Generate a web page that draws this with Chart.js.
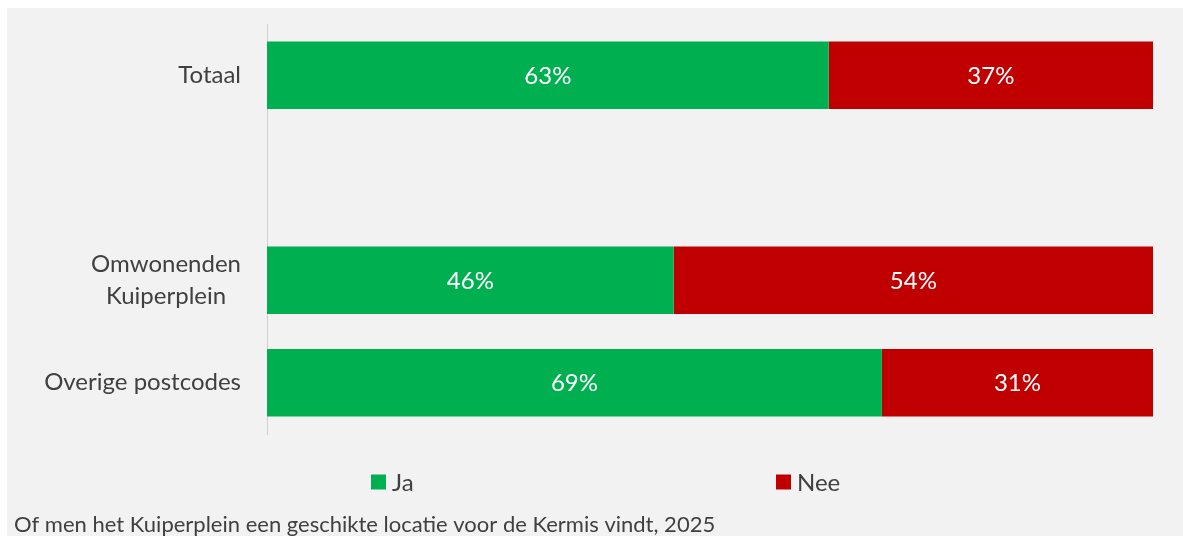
<!DOCTYPE html>
<html>
<head>
<meta charset="utf-8">
<script src="https://cdn.jsdelivr.net/npm/chart.js@4"></script>
<style>
  body { margin: 0; background: #ffffff; }
  #wrap { width: 1183px; height: 536px; }
</style>
</head>
<body>
<div id="wrap"><canvas id="barChart"></canvas></div>
<script>
// categories (the empty one is the gap between Totaal and the rest)
var categories = ['Totaal', '', ['Omwonenden', 'Kuiperplein'], 'Overige postcodes'];
var jaValues = [63.4, null, 45.9, 69.4];
var neeValues = [36.6, null, 54.1, 30.6];
var seriesNames = ['Ja', 'Nee'];
var chartTitle = 'Of men het Kuiperplein een geschikte locatie voor de Kermis vindt, 2025';

var green = '#00b050';
var red = '#c00000';
var textColor = '#404040';
var fontFamily = 'Lato, "Open Sans", sans-serif';

var bgPlugin = {
    id: 'bg',
    beforeDraw: function (chart) {
        var ctx = chart.ctx;
        ctx.save();
        ctx.fillStyle = '#ffffff';
        ctx.fillRect(0, 0, chart.width, chart.height);
        ctx.fillStyle = '#f2f2f2';
        ctx.fillRect(7, 8, chart.width - 7, chart.height - 8);
        ctx.restore();
    }
};

// white percentage labels in the middle of each segment
var valueLabels = {
    id: 'valueLabels',
    afterDatasetsDraw: function (chart) {
        var ctx = chart.ctx;
        ctx.save();
        ctx.fillStyle = '#ffffff';
        ctx.font = '24px ' + fontFamily;
        ctx.textAlign = 'center';
        ctx.textBaseline = 'middle';
        chart.data.datasets.forEach(function (ds, i) {
            var meta = chart.getDatasetMeta(i);
            meta.data.forEach(function (bar, j) {
                var v = ds.data[j];
                if (v == null) return;
                var p = bar.getCenterPoint();
                ctx.fillText(Math.round(v) + '%', p.x, p.y + 1);
            });
        });
        ctx.restore();
    }
};

// category labels: right aligned block, lines centred on each other
var catLabels = {
    id: 'catLabels',
    afterDraw: function (chart) {
        var ctx = chart.ctx;
        var yScale = chart.scales.y;
        var right = 241;
        var lineH = 32;
        ctx.save();
        ctx.fillStyle = textColor;
        ctx.font = '24px ' + fontFamily;
        ctx.textBaseline = 'middle';
        ctx.textAlign = 'center';
        chart.data.labels.forEach(function (lab, i) {
            var lines = Array.isArray(lab) ? lab : [lab];
            if (!lines[0]) return;
            var w = 0;
            lines.forEach(function (l) { w = Math.max(w, ctx.measureText(l).width); });
            var cx = right - w / 2;
            var y0 = yScale.getPixelForTick(i) - (lines.length - 1) * lineH / 2;
            lines.forEach(function (l, k) {
                ctx.fillText(l, cx, y0 + k * lineH);
            });
        });

        // legend
        var legendX = [371, 776];
        var legendY = 482;
        ctx.font = '24px ' + fontFamily;
        ctx.textAlign = 'left';
        chart.data.datasets.forEach(function (ds, i) {
            ctx.fillStyle = ds.backgroundColor;
            ctx.fillRect(legendX[i], legendY - 7.5, 15, 15);
            ctx.fillStyle = textColor;
            ctx.fillText(ds.label, legendX[i] + 21, legendY + 1);
        });

        // title at the bottom
        ctx.font = '22px ' + fontFamily;
        ctx.textBaseline = 'alphabetic';
        ctx.fillText(chartTitle, 14, 532);
        ctx.restore();
    }
};

var ctx = document.getElementById('barChart').getContext('2d');
var barChart = new Chart(ctx, {
    type: 'bar',
    data: {
        labels: categories,
        datasets: [{
            label: seriesNames[0],
            data: jaValues,
            backgroundColor: green,
            borderWidth: 0
        }, {
            label: seriesNames[1],
            data: neeValues,
            backgroundColor: red,
            borderWidth: 0
        }]
    },
    options: {
        indexAxis: 'y',
        responsive: true,
        maintainAspectRatio: false,
        animation: false,
        layout: {
            padding: { left: 0, right: 30, top: 24, bottom: 102 }
        },
        datasets: {
            bar: { barPercentage: 0.66, categoryPercentage: 1 }
        },
        scales: {
            x: {
                stacked: true,
                min: 0,
                max: 100,
                display: false
            },
            y: {
                stacked: true,
                grid: { display: false },
                border: { display: true, color: '#d0d0d0', width: 1 },
                ticks: { display: false },
                afterFit: function (scale) { scale.width = 267; }
            }
        },
        plugins: {
            legend: { display: false },
            tooltip: { enabled: false }
        }
    },
    plugins: [bgPlugin, valueLabels, catLabels]
});
</script>
</body>
</html>
